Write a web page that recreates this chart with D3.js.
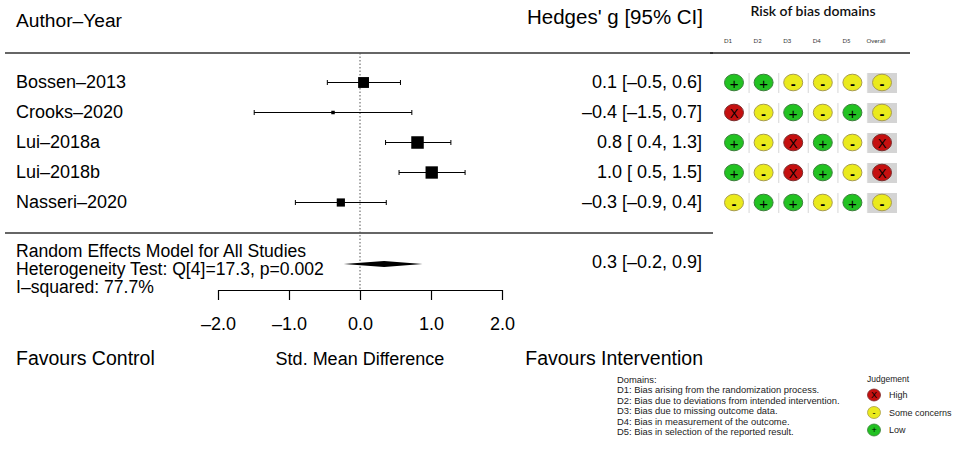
<!DOCTYPE html>
<html>
<head>
<meta charset="utf-8">
<script src="https://d3js.org/d3.v7.min.js"></script>
<style>
  body { margin: 0; background: #fff; }
  text { font-family: "Liberation Sans", Arial, Helvetica, sans-serif; }
</style>
</head>
<body>
<div id="chart"></div>
<script>
// forest plot data
var studies = ["Bossen–2013", "Crooks–2020", "Lui–2018a", "Lui–2018b", "Nasseri–2020"];
var estimate = [0.05, -0.38, 0.81, 1.01, -0.27];
var ciLower = [-0.46, -1.49, 0.36, 0.55, -0.91];
var ciUpper = [0.57, 0.73, 1.28, 1.48, 0.37];
var ciText = ["0.1 [–0.5, 0.6]", "–0.4 [–1.5, 0.7]", "0.8 [ 0.4, 1.3]", "1.0 [ 0.5, 1.5]", "–0.3 [–0.9, 0.4]"];

// random effects summary
var summaryEst = 0.34, summaryLower = -0.23, summaryUpper = 0.88;
var summaryText = "0.3 [–0.2, 0.9]";
var summaryLines = ["Random Effects Model for All Studies", "Heterogeneity Test: Q[4]=17.3, p=0.002", "I–squared: 77.7%"];

var axisTicks = [-2, -1, 0, 1, 2];
var tickLabels = ["–2.0", "–1.0", "0.0", "1.0", "2.0"];

// risk of bias
var domains = ["D1", "D2", "D3", "D4", "D5", "Overall"];
var rob = [
  ["+", "+", "-", "-", "-", "-"],
  ["X", "-", "+", "-", "+", "-"],
  ["+", "-", "X", "+", "-", "X"],
  ["+", "-", "X", "+", "-", "X"],
  ["-", "+", "+", "-", "+", "-"]
];
var domainNotes = ["Domains:",
  "D1: Bias arising from the randomization process.",
  "D2: Bias due to deviations from intended intervention.",
  "D3: Bias due to missing outcome data.",
  "D4: Bias in measurement of the outcome.",
  "D5: Bias in selection of the reported result."];
var judgements = ["X", "-", "+"];
var judgementNames = ["High", "Some concerns", "Low"];

var W = 957, H = 450;
var svg = d3.select("#chart").append("svg").attr("width", W).attr("height", H);

var x = d3.scaleLinear().domain([-2, 2]).range([218, 502]);
var y = d3.scalePoint().domain(studies).range([82.5, 202.5]);

// precision -> box size
var prec = studies.map(function(d, i){ return 3.92 / (ciUpper[i] - ciLower[i]); });
var boxSize = d3.scaleLinear().domain(d3.extent(prec)).range([3.5, 12.5]);

// headers
svg.append("text").attr("x", 16).attr("y", 27).style("font-size", "19.2px").text("Author–Year");
svg.append("text").attr("x", 703).attr("y", 24).attr("text-anchor", "end").style("font-size", "20.5px").text("Hedges' g [95% CI]");

var line = d3.line();
svg.append("path").attr("d", line([[5, 53], [713, 53]])).attr("stroke", "#333").attr("stroke-width", 1.3);
svg.append("path").attr("d", line([[5, 233], [713, 233]])).attr("stroke", "#333").attr("stroke-width", 1.3);

// reference line
svg.append("path").attr("d", line([[x(0), 53], [x(0), 290]]))
  .attr("stroke", "#555").attr("stroke-width", 1).attr("stroke-dasharray", "1.5,2");

var rows = svg.selectAll(".row").data(studies).enter().append("g").attr("class", "row");

rows.append("text").attr("x", 16).attr("y", function(d){ return y(d) + 5.5; })
  .style("font-size", "18px").text(function(d){ return d; });
rows.append("text").attr("x", 702).attr("y", function(d){ return y(d) + 5.5; })
  .attr("text-anchor", "end").style("font-size", "18px").text(function(d, i){ return ciText[i]; });

rows.append("path").attr("stroke", "#000").attr("stroke-width", 1).attr("fill", "none")
  .attr("d", function(d, i){
    var yy = y(d), a = x(ciLower[i]), b = x(ciUpper[i]);
    return line([[a, yy], [b, yy]]) + line([[a, yy - 2.5], [a, yy + 2.5]]) + line([[b, yy - 2.5], [b, yy + 2.5]]);
  });
rows.append("rect").attr("fill", "#000")
  .attr("x", function(d, i){ return x(estimate[i]) - boxSize(prec[i]) / 2; })
  .attr("y", function(d, i){ return y(d) - boxSize(prec[i]) / 2; })
  .attr("width", function(d, i){ return boxSize(prec[i]); })
  .attr("height", function(d, i){ return boxSize(prec[i]); });

// summary
svg.selectAll(".sumline").data(summaryLines).enter().append("text")
  .attr("x", 16).attr("y", function(d, i){ return 256.5 + i * 18.3; })
  .style("font-size", "17.6px").text(function(d){ return d; });
svg.append("text").attr("x", 702).attr("y", 268).attr("text-anchor", "end")
  .style("font-size", "18px").text(summaryText);
var sy = 264;
svg.append("path").attr("fill", "#000")
  .attr("d", line([[x(summaryLower), sy], [x(summaryEst), sy - 3], [x(summaryUpper), sy], [x(summaryEst), sy + 3]]) + "Z");

// axis
var axis = svg.append("g").attr("transform", "translate(0,290)")
  .call(d3.axisBottom(x).tickValues(axisTicks).tickSize(10).tickSizeOuter(0).tickPadding(17)
    .tickFormat(function(d, i){ return tickLabels[i]; }));
axis.select(".domain").attr("stroke", "#000").attr("stroke-width", 1.2);
axis.selectAll(".tick line").attr("stroke", "#000").attr("stroke-width", 1.2);
axis.selectAll(".tick text").style("font-size", "18px").attr("fill", "#000")
  .style("font-family", "'Liberation Sans', Arial, sans-serif");

svg.append("text").attr("x", 16).attr("y", 365).style("font-size", "19.5px").text("Favours Control");
svg.append("text").attr("x", x(0)).attr("y", 365).attr("text-anchor", "middle").style("font-size", "18px").text("Std. Mean Difference");
svg.append("text").attr("x", 703).attr("y", 365).attr("text-anchor", "end").style("font-size", "19.5px").text("Favours Intervention");

// risk of bias panel
var cx = d3.scalePoint().domain(domains).range([734, 882]);
var fillCol = { "+": "#22c222", "-": "#eaea1c", "X": "#c51010" };
var strokeCol = { "+": "#3a7f3a", "-": "#a89c4a", "X": "#7c2a2a" };

svg.append("text").attr("x", 813).attr("y", 16).attr("text-anchor", "middle")
  .style("font-family", "Lato, 'Open Sans', sans-serif").style("font-size", "14px").style("font-weight", 600)
  .attr("fill", "#111").text("Risk of bias domains");
svg.selectAll(".domlab").data(domains).enter().append("text")
  .attr("x", function(d){ return cx(d) - 6; }).attr("y", 43).attr("text-anchor", "middle")
  .style("font-family", "Lato, 'Open Sans', sans-serif").style("font-size", "6px").attr("fill", "#333")
  .text(function(d){ return d; });
svg.append("path").attr("d", line([[710, 53], [910, 53]])).attr("stroke", "#222").attr("stroke-width", 1.5);

var robRows = svg.selectAll(".robrow").data(rob).enter().append("g")
  .attr("transform", function(d, i){ return "translate(0," + y(studies[i]) + ")"; });

robRows.append("rect").attr("x", cx("Overall") - 15).attr("y", -9.5).attr("width", 30).attr("height", 20)
  .attr("fill", "#d4d4d4");
robRows.selectAll(".sep").data(domains.slice(1)).enter().append("path")
  .attr("d", function(d){ var xx = cx(d) - 14.5; return line([[xx, -9.5], [xx, 10.5]]); })
  .attr("stroke", "#dedede").attr("stroke-width", 1.2);

var cells = robRows.selectAll(".cell").data(function(d){ return d; }).enter().append("g")
  .attr("transform", function(d, j){ return "translate(" + cx(domains[j]) + ",0)"; });
cells.append("ellipse").attr("rx", 9.5).attr("ry", 8.3)
  .attr("fill", function(d){ return fillCol[d]; })
  .attr("stroke", function(d){ return strokeCol[d]; }).attr("stroke-width", 1);
cells.append("text").attr("text-anchor", "middle").attr("dominant-baseline", "central")
  .attr("y", 0.5).style("font-size", function(d){ return d == "X" ? "13px" : "15px"; })
  .style("font-weight", function(d){ return d == "-" ? "bold" : "normal"; })
  .attr("fill", "#000").text(function(d){ return d; });

// domain notes
svg.selectAll(".note").data(domainNotes).enter().append("text")
  .attr("x", 617).attr("y", function(d, i){ return 383 + i * 10.4; })
  .style("font-size", "9.4px").attr("fill", "#222").text(function(d){ return d; });

// judgement legend
svg.append("text").attr("x", 867).attr("y", 382).style("font-size", "8.5px").attr("fill", "#222").text("Judgement");
var jl = svg.selectAll(".jleg").data(judgements).enter().append("g")
  .attr("transform", function(d, i){ return "translate(874," + (395 + i * 17.5) + ")"; });
jl.append("ellipse").attr("rx", 6.5).attr("ry", 6).attr("fill", function(d){ return fillCol[d]; })
  .attr("stroke", function(d){ return strokeCol[d]; }).attr("stroke-width", 0.8);
jl.append("text").attr("text-anchor", "middle").attr("dominant-baseline", "central")
  .style("font-size", "9px").text(function(d){ return d; });
jl.append("text").attr("x", 15).attr("y", 3).style("font-size", "9px").attr("fill", "#222")
  .text(function(d, i){ return judgementNames[i]; });
</script>
</body>
</html>
